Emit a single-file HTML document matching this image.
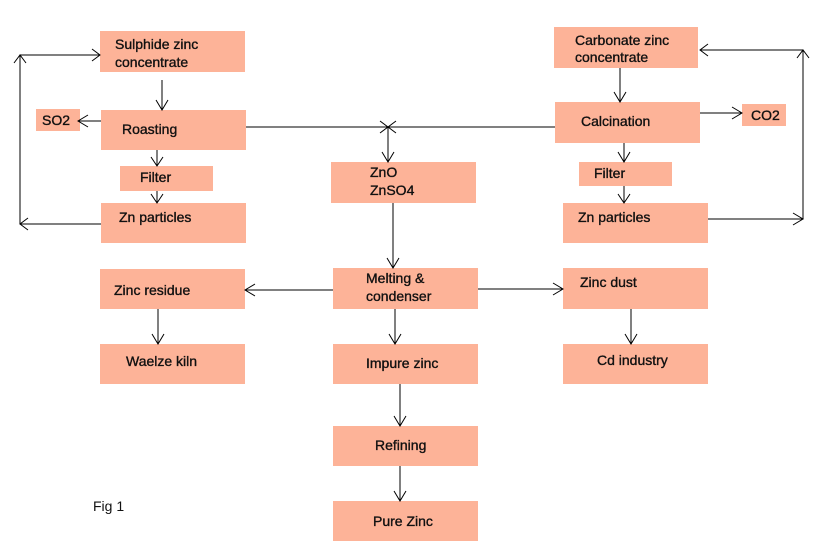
<!DOCTYPE html>
<html><head><meta charset="utf-8"><style>
html,body{margin:0;padding:0;background:#fff;}
svg{display:block;}
text{font-family:"Liberation Sans",sans-serif;font-size:14px;fill:#111;stroke:#111;stroke-width:0.35;}
</style></head><body>
<svg width="820" height="550" viewBox="0 0 820 550" xmlns="http://www.w3.org/2000/svg">
<g fill="#fdb398">
<rect x="100" y="31" width="145" height="41"/>
<rect x="101" y="110" width="145" height="40"/>
<rect x="36" y="109" width="44" height="22"/>
<rect x="120" y="166" width="93" height="25"/>
<rect x="101" y="203" width="145" height="40"/>
<rect x="331" y="162" width="145" height="41"/>
<rect x="554" y="27" width="144" height="41"/>
<rect x="555" y="102" width="145" height="41"/>
<rect x="742" y="104" width="44" height="22"/>
<rect x="579" y="162" width="93" height="24"/>
<rect x="563" y="203" width="145" height="40"/>
<rect x="100" y="269" width="145" height="40"/>
<rect x="333" y="268" width="145" height="41"/>
<rect x="563" y="268" width="145" height="41"/>
<rect x="100" y="344" width="145" height="40"/>
<rect x="333" y="344" width="145" height="40"/>
<rect x="563" y="344" width="145" height="40"/>
<rect x="333" y="426" width="145" height="40"/>
<rect x="333" y="501" width="145" height="40"/>
</g>
<g stroke="#000" stroke-width="1" fill="none">
<path d="M101 224 H20 V55 H100"/>
<path d="M28 218 L20 224 L28 230 M14 63 L20 55 L26 63 M92 49 L100 55 L92 61"/>
<path d="M162 80 V110 M156 100 L162 110 L168 100"/>
<path d="M101 121 H78 M88 115 L78 121 L88 127"/>
<path d="M157 150 V166 M151 157 L157 166 L163 157"/>
<path d="M157 191 V203 M151 194 L157 203 L163 194"/>
<path d="M246 127 H555"/>
<path d="M380 121 L396 133 M380 133 L396 121"/>
<path d="M388 127 V162 M382 152 L388 162 L394 152"/>
<path d="M393 203 V268 M387 258 L393 268 L399 258"/>
<path d="M620 68 V102 M614 92 L620 102 L626 92"/>
<path d="M700 113 H742 M732 107 L742 113 L732 119"/>
<path d="M624 143 V162 M618 152 L624 162 L630 152"/>
<path d="M624 186 V203 M618 194 L624 203 L630 194"/>
<path d="M708 219 H803 V50 H700"/>
<path d="M793 213 L803 219 L793 225 M797 58 L803 50 L809 58 M708 44 L700 50 L708 56"/>
<path d="M333 290 H245 M255 284 L245 290 L255 296"/>
<path d="M478 289 H563 M553 283 L563 289 L553 295"/>
<path d="M158 309 V344 M152 334 L158 344 L164 334"/>
<path d="M395 309 V344 M389 334 L395 344 L401 334"/>
<path d="M631 309 V344 M625 334 L631 344 L637 334"/>
<path d="M400 384 V426 M394 416 L400 426 L406 416"/>
<path d="M400 466 V501 M394 491 L400 501 L406 491"/>
</g>
<text x="115" y="49">Sulphide zinc</text>
<text x="115" y="67">concentrate</text>
<text x="122" y="134">Roasting</text>
<text x="42" y="125">SO2</text>
<text x="140" y="182">Filter</text>
<text x="119" y="222">Zn particles</text>
<text x="370" y="177">ZnO</text>
<text x="370" y="195">ZnSO4</text>
<text x="575" y="45">Carbonate zinc</text>
<text x="575" y="62">concentrate</text>
<text x="581" y="126">Calcination</text>
<text x="751" y="120">CO2</text>
<text x="594" y="178">Filter</text>
<text x="578" y="222">Zn particles</text>
<text x="114" y="295">Zinc residue</text>
<text x="366" y="283">Melting &amp;</text>
<text x="366" y="301">condenser</text>
<text x="580" y="287">Zinc dust</text>
<text x="126" y="366">Waelze kiln</text>
<text x="366" y="368">Impure zinc</text>
<text x="597" y="365">Cd industry</text>
<text x="375" y="450">Refining</text>
<text x="373" y="526">Pure Zinc</text>
<text x="93" y="511" style="stroke:none">Fig 1</text>
</svg>
</body></html>
